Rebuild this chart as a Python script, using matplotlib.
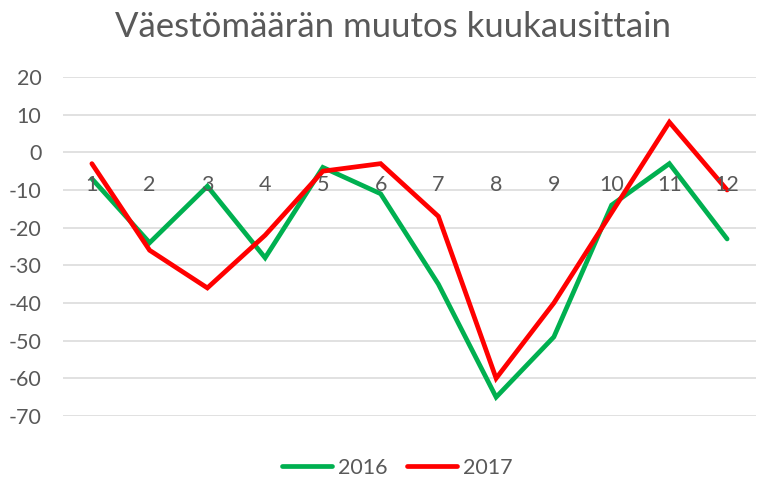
import matplotlib
matplotlib.use("Agg")
import matplotlib.pyplot as plt

months = list(range(1, 13))
month_labels = [str(m) for m in months]
v2016 = [-7, -24, -9, -28, -4, -11, -35, -65, -49, -14, -3, -23]
v2017 = [-3, -26, -36, -22, -5, -3, -17, -60, -40, -16, 8, -10]
yticks = [20, 10, 0, -10, -20, -30, -40, -50, -60, -70]

plt.rcParams['font.family'] = ['Lato', 'DejaVu Sans']
txt = '#595959'
fs = 15.5

fig = plt.figure(figsize=(7.57, 4.8), dpi=100)
ax = fig.add_axes([63/757, 1-416/480, (756-63)/757, (416-77)/480])

ax.plot(months, v2016, color='#00B050', lw=3.4, label='2016', solid_joinstyle='miter', solid_capstyle='round')
ax.plot(months, v2017, color='#FF0000', lw=3.4, label='2017', solid_joinstyle='miter', solid_capstyle='round')

ax.set_xlim(0.5, 12.5)
ax.set_ylim(-70, 20)
ax.set_yticks(yticks)
ax.set_yticklabels([str(v) for v in yticks])
ax.yaxis.grid(True, color='#D9D9D9', lw=1.1)
ax.set_axisbelow(True)
ax.tick_params(axis='y', length=0, pad=15.5, labelsize=fs, labelcolor=txt)
ax.set_xticks([])
for s in ax.spines.values():
    s.set_visible(False)

for m, lab in zip(months, month_labels):
    ax.annotate(lab, (m, 0), xytext=(0, -39), textcoords='offset pixels',
                ha='center', va='baseline', fontsize=fs, color=txt, zorder=5)

fig.text(393/757, 1-37/480, 'Väestömäärän muutos kuukausittain', ha='center', va='baseline',
         fontsize=25, color=txt)

leg = fig.legend(loc='center', bbox_to_anchor=(397/757, 1-468/480), ncol=2, frameon=False,
                 fontsize=fs, handlelength=2.35, handletextpad=0.25, columnspacing=0.9)
for t in leg.get_texts():
    t.set_color(txt)

fig.savefig('out.png', dpi=100)
